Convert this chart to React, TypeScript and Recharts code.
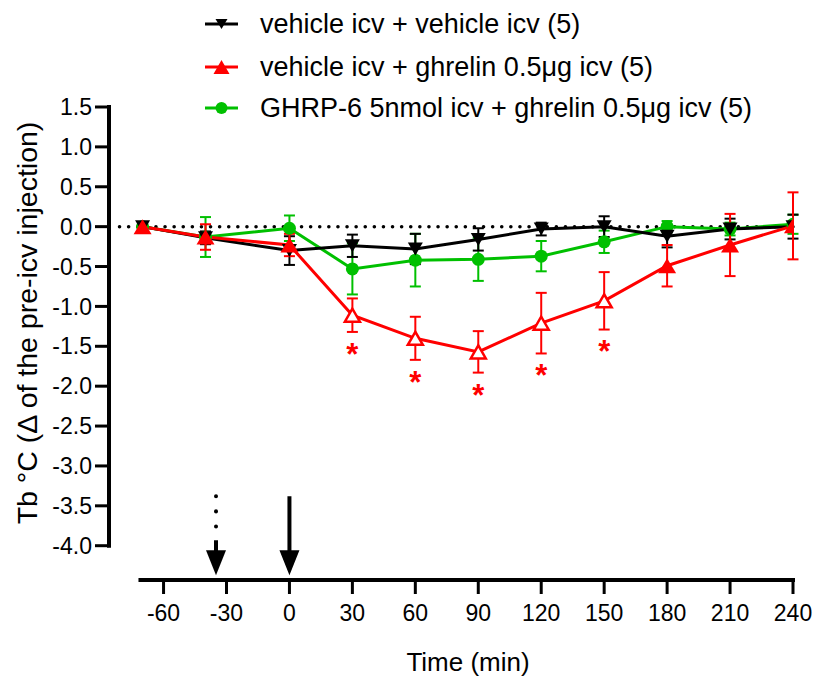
import React from "react";
import { LineChart, Line, XAxis, YAxis, ErrorBar, ReferenceLine } from "recharts";

const times = [-70, -40, 0, 30, 60, 90, 120, 150, 180, 210, 240];
const vehVeh = [0, -0.14, -0.3, -0.24, -0.28, -0.16, -0.03, 0.0, -0.12, -0.03, 0.0];
const vehVehSem = [0, 0.08, 0.18, 0.14, 0.19, 0.14, 0.08, 0.13, 0.14, 0.13, 0.15];
const vehGhr = [0, -0.13, -0.23, -1.11, -1.4, -1.57, -1.21, -0.93, -0.49, -0.23, 0.01];
const vehGhrSem = [0, 0.16, 0.14, 0.21, 0.27, 0.26, 0.38, 0.36, 0.26, 0.39, 0.42];
const ghrpGhr = [0, -0.13, -0.02, -0.53, -0.42, -0.41, -0.37, -0.19, 0.0, -0.03, 0.03];
const ghrpGhrSem = [0, 0.25, 0.16, 0.32, 0.33, 0.27, 0.19, 0.14, 0.07, 0.08, 0.12];
const significant = [false, false, false, true, true, true, true, true, false, false, false];

const xTicks = [-60, -30, 0, 30, 60, 90, 120, 150, 180, 210, 240];
const yTicks = [-4, -3.5, -3, -2.5, -2, -1.5, -1, -0.5, 0, 0.5, 1, 1.5];

const legendLabels = [
  "vehicle icv + vehicle icv (5)",
  "vehicle icv + ghrelin 0.5\u03bcg icv (5)",
  "GHRP-6 5nmol icv + ghrelin 0.5\u03bcg icv (5)",
];

// injection arrows (min)
const arrowTimes = [-35, 0];

const X_MIN = -86;
const Y_MIN = -4.43;
const STAR_GAP = 0.2;

const BLACK = "#000000";
const RED = "#ff0000";
const GREEN = "#00c000";
const FONT = "'Liberation Sans', Arial, sans-serif";

const rows = times.map((t, i) => ({
  t,
  black: vehVeh[i],
  blackErr: vehVehSem[i],
  red: vehGhr[i],
  redErr: vehGhrSem[i],
  green: ghrpGhr[i],
  greenErr: ghrpGhrSem[i],
  sig: significant[i],
  star: significant[i] ? vehGhr[i] - vehGhrSem[i] - STAR_GAP : null,
}));

function triUp(cx: number, cy: number, w: number, h: number) {
  return `${cx},${cy - h / 2} ${cx - w / 2},${cy + h / 2} ${cx + w / 2},${cy + h / 2}`;
}
function triDown(cx: number, cy: number, w: number, h: number) {
  return `${cx - w / 2},${cy - h / 2} ${cx + w / 2},${cy - h / 2} ${cx},${cy + h / 2}`;
}

const blackDot = (p: any) => {
  if (p.cx == null || p.cy == null) return <g key={p.index} />;
  return <polygon key={p.index} points={triDown(p.cx, p.cy, 15, 13)} fill={BLACK} />;
};

const redDot = (p: any) => {
  if (p.cx == null || p.cy == null) return <g key={p.index} />;
  const open = p.payload.sig;
  return (
    <polygon
      key={p.index}
      points={triUp(p.cx, p.cy, open ? 15 : 18, open ? 13 : 15)}
      fill={open ? "#fff" : RED}
      stroke={RED}
      strokeWidth={open ? 2.5 : 0}
    />
  );
};

const greenDot = (p: any) => {
  if (p.cx == null || p.cy == null) return <g key={p.index} />;
  return <circle key={p.index} cx={p.cx} cy={p.cy} r={6.5} fill={GREEN} />;
};

const starDot = (p: any) => {
  if (p.cx == null || p.cy == null || p.value == null) return <g key={p.index} />;
  return (
    <text
      key={p.index}
      x={p.cx}
      y={p.cy + 17}
      textAnchor="middle"
      fontSize={31}
      fontWeight="bold"
      fill={RED}
      fontFamily={FONT}
    >
      *
    </text>
  );
};

const arrowShape = (dotted: boolean) => (p: any) => {
  const x = p.x1;
  const top = Math.min(p.y1, p.y2);
  const tip = Math.max(p.y1, p.y2);
  const headH = 25;
  const headW = 10;
  return (
    <g>
      {dotted ? (
        <>
          <line x1={x} y1={top} x2={x} y2={top + 32} stroke={BLACK} strokeWidth={4} strokeDasharray="0.1 15" strokeLinecap="round" />
          <line x1={x} y1={top + 44} x2={x} y2={tip - headH + 2} stroke={BLACK} strokeWidth={4} />
        </>
      ) : (
        <line x1={x} y1={top} x2={x} y2={tip - headH + 2} stroke={BLACK} strokeWidth={4} />
      )}
      <polygon points={`${x - headW},${tip - headH} ${x + headW},${tip - headH} ${x},${tip}`} fill={BLACK} />
    </g>
  );
};

function LegendBox() {
  const ys = [24, 67, 108];
  const x0 = 205;
  const x1 = 238;
  const xm = (x0 + x1) / 2;
  const colors = [BLACK, RED, GREEN];
  return (
    <svg width={818} height={130} style={{ position: "absolute", left: 0, top: 0 }}>
      {ys.map((y, i) => (
        <g key={i}>
          <line x1={x0} y1={y} x2={x1} y2={y} stroke={colors[i]} strokeWidth={3} />
          {i === 0 && <polygon points={triDown(xm, y, 12, 10)} fill={BLACK} />}
          {i === 1 && <polygon points={triUp(xm, y, 16, 14)} fill={RED} />}
          {i === 2 && <circle cx={xm} cy={y} r={6} fill={GREEN} />}
          <text x={260} y={y + 9} fontSize={27} fontFamily={FONT} fill="#000">
            {legendLabels[i]}
          </text>
        </g>
      ))}
    </svg>
  );
}

export default function App() {
  return (
    <div style={{ position: "absolute", left: 0, top: 0, width: 818, height: 679, background: "#fff" }}>
      <LineChart width={818} height={679} data={rows} margin={{ top: 107, right: 25, bottom: 0, left: 0 }}>
        <XAxis
          dataKey="t"
          type="number"
          domain={[X_MIN, 240]}
          ticks={xTicks}
          allowDataOverflow
          axisLine={false}
          tickLine={{ stroke: BLACK, strokeWidth: 3 }}
          tickSize={14}
          tickMargin={11}
          height={99}
          tick={{ fill: BLACK, fontSize: 23, fontFamily: FONT }}
          label={{
            content: ({ viewBox }: any) => (
              <text x={468} y={viewBox.y + 91} textAnchor="middle" fontSize={26} fontFamily={FONT} fill={BLACK}>
                Time (min)
              </text>
            ),
          }}
        />
        <YAxis
          type="number"
          domain={[Y_MIN, 1.5]}
          ticks={yTicks}
          allowDataOverflow
          axisLine={false}
          tickLine={{ stroke: BLACK, strokeWidth: 3 }}
          tickSize={14}
          tickMargin={3}
          width={109}
          tickFormatter={(v: number) => v.toFixed(1)}
          tick={{ fill: BLACK, fontSize: 23, fontFamily: FONT }}
          label={{
            content: () => (
              <text
                x={37}
                y={323}
                transform="rotate(-90, 37, 323)"
                textAnchor="middle"
                fontSize={28.5}
                fontFamily={FONT}
                fill={BLACK}
              >
                Tb {"\u00b0"}C ({"\u0394"} of the pre-icv injection)
              </text>
            ),
          }}
        />
        <ReferenceLine
          segment={[{ x: X_MIN, y: -4 }, { x: X_MIN, y: 1.5 }]}
          stroke={BLACK}
          strokeWidth={4}
          strokeLinecap="square"
          ifOverflow="visible"
        />
        <ReferenceLine
          segment={[{ x: -71, y: Y_MIN }, { x: 240, y: Y_MIN }]}
          stroke={BLACK}
          strokeWidth={4}
          strokeLinecap="square"
          ifOverflow="visible"
        />
        <ReferenceLine
          segment={[{ x: -81, y: 0 }, { x: 240, y: 0 }]}
          stroke={BLACK}
          strokeWidth={3.5}
          strokeDasharray="0.1 9"
          strokeLinecap="round"
          ifOverflow="visible"
        />
        {arrowTimes.map((t, i) => (
          <ReferenceLine
            key={t}
            segment={[{ x: t, y: -3.38 }, { x: t, y: -4.37 }]}
            ifOverflow="visible"
            shape={arrowShape(i === 0)}
          />
        ))}
        <Line
          dataKey="green"
          stroke={GREEN}
          strokeWidth={3}
          dot={greenDot}
          activeDot={false}
          isAnimationActive={false}
        >
          <ErrorBar dataKey="greenErr" width={5.5} stroke={GREEN} strokeWidth={2} isAnimationActive={false} />
        </Line>
        <Line
          dataKey="black"
          stroke={BLACK}
          strokeWidth={3}
          dot={blackDot}
          activeDot={false}
          isAnimationActive={false}
        >
          <ErrorBar dataKey="blackErr" width={5.5} stroke={BLACK} strokeWidth={2} isAnimationActive={false} />
        </Line>
        <Line
          dataKey="red"
          stroke={RED}
          strokeWidth={3}
          dot={redDot}
          activeDot={false}
          isAnimationActive={false}
        >
          <ErrorBar dataKey="redErr" width={5.5} stroke={RED} strokeWidth={2} isAnimationActive={false} />
        </Line>
        <Line
          dataKey="star"
          stroke="none"
          dot={starDot}
          activeDot={false}
          legendType="none"
          isAnimationActive={false}
        />
      </LineChart>
      <LegendBox />
    </div>
  );
}
